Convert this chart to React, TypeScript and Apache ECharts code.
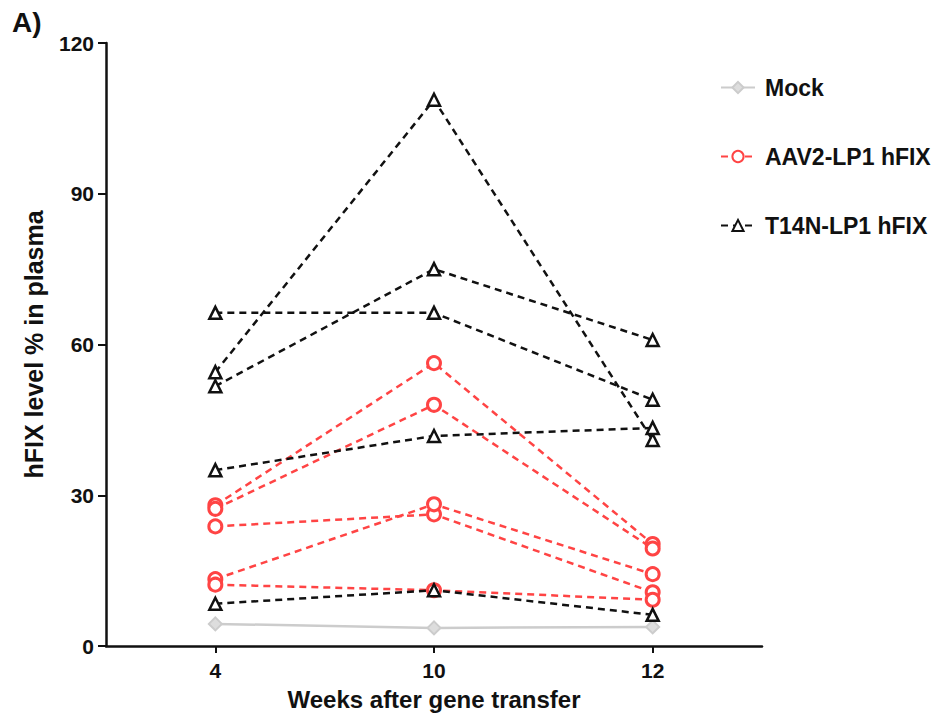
import React, { useEffect, useRef } from "react";
import * as echarts from "echarts";

const weeks = ["4", "10", "12"];
const mock = [4.4, 3.6, 3.8];
const aav2Mice = [
  [28.0, 56.3, 20.3],
  [27.3, 48.0, 19.4],
  [23.8, 26.2, 10.7],
  [13.3, 28.2, 14.3],
  [12.2, 11.1, 9.2],
];
const t14nMice = [
  [54.5, 108.7, 41.0],
  [51.7, 75.0, 60.9],
  [66.3, 66.3, 49.0],
  [35.0, 41.8, 43.4],
  [8.4, 11.1, 6.2],
];
const yTicks = { min: 0, max: 120, interval: 30 };

const FONT = "'Liberation Sans', Arial, sans-serif";
const RED = "#ff4444";
const GRAY = "#cccccc";

export default function App() {
  const ref = useRef<HTMLDivElement>(null);
  useEffect(() => {
    if (!ref.current) return;
    const chart = echarts.init(ref.current, undefined, { renderer: "svg" });
    const series: any[] = [];
    series.push({
      name: "Mock",
      type: "line",
      data: mock,
      symbol: "diamond",
      symbolSize: 13,
      lineStyle: { color: GRAY, width: 2.5, type: "solid" },
      itemStyle: { color: "#dddddd", borderColor: GRAY, borderWidth: 2 },
      z: 1,
    });
    aav2Mice.forEach((d) =>
      series.push({
        name: "AAV2-LP1 hFIX",
        type: "line",
        data: d,
        symbol: "circle",
        symbolSize: 13,
        lineStyle: { color: RED, width: 2.5, type: [7, 5] },
        itemStyle: { color: "#ffffff", borderColor: RED, borderWidth: 3 },
        z: 2,
      })
    );
    t14nMice.forEach((d) =>
      series.push({
        name: "T14N-LP1 hFIX",
        type: "line",
        data: d,
        symbol: "triangle",
        symbolSize: 12,
        lineStyle: { color: "#111111", width: 2.5, type: [7, 5] },
        itemStyle: { color: "#ffffff", borderColor: "#111111", borderWidth: 2.5 },
        z: 3,
      })
    );
    chart.setOption({
      animation: false,
      textStyle: { fontFamily: FONT },
      graphic: [
        {
          type: "text",
          left: 12,
          top: 8,
          style: { text: "A)", font: `bold 28px ${FONT}`, fill: "#111" },
        },
      ],
      legend: {
        orient: "vertical",
        left: 715,
        top: 71,
        itemGap: 46,
        itemWidth: 34,
        itemHeight: 14,
        data: ["Mock", "AAV2-LP1 hFIX", "T14N-LP1 hFIX"],
        textStyle: { fontFamily: FONT, fontSize: 23, fontWeight: "bold", color: "#111", padding: [0, 0, 0, 5] },
      },
      grid: { left: 106, right: 182, top: 43, bottom: 72, containLabel: false },
      xAxis: {
        type: "category",
        data: weeks,
        boundaryGap: true,
        name: "Weeks after gene transfer",
        nameLocation: "middle",
        nameGap: 41,
        nameTextStyle: { fontFamily: FONT, fontSize: 24, fontWeight: "bold", color: "#111" },
        axisLine: { lineStyle: { color: "#111", width: 2.5 } },
        axisTick: { show: true, alignWithLabel: true, length: 7, lineStyle: { color: "#111", width: 2 } },
        axisLabel: { fontFamily: FONT, fontSize: 21, fontWeight: "bold", color: "#111", margin: 14 },
        splitLine: { show: false },
      },
      yAxis: {
        type: "value",
        min: yTicks.min,
        max: yTicks.max,
        interval: yTicks.interval,
        name: "hFIX level % in plasma",
        nameLocation: "middle",
        nameGap: 60,
        nameTextStyle: { fontFamily: FONT, fontSize: 25, fontWeight: "bold", color: "#111" },
        axisLine: { show: true, lineStyle: { color: "#111", width: 2.5 } },
        axisTick: { show: true, length: 8, lineStyle: { color: "#111", width: 2 } },
        axisLabel: { fontFamily: FONT, fontSize: 21, fontWeight: "bold", color: "#111", margin: 12 },
        splitLine: { show: false },
      },
      series,
    });
    return () => chart.dispose();
  }, []);
  return (
    <div
      ref={ref}
      style={{ position: "absolute", left: 0, top: 0, width: 944, height: 718, background: "#fff" }}
    />
  );
}
